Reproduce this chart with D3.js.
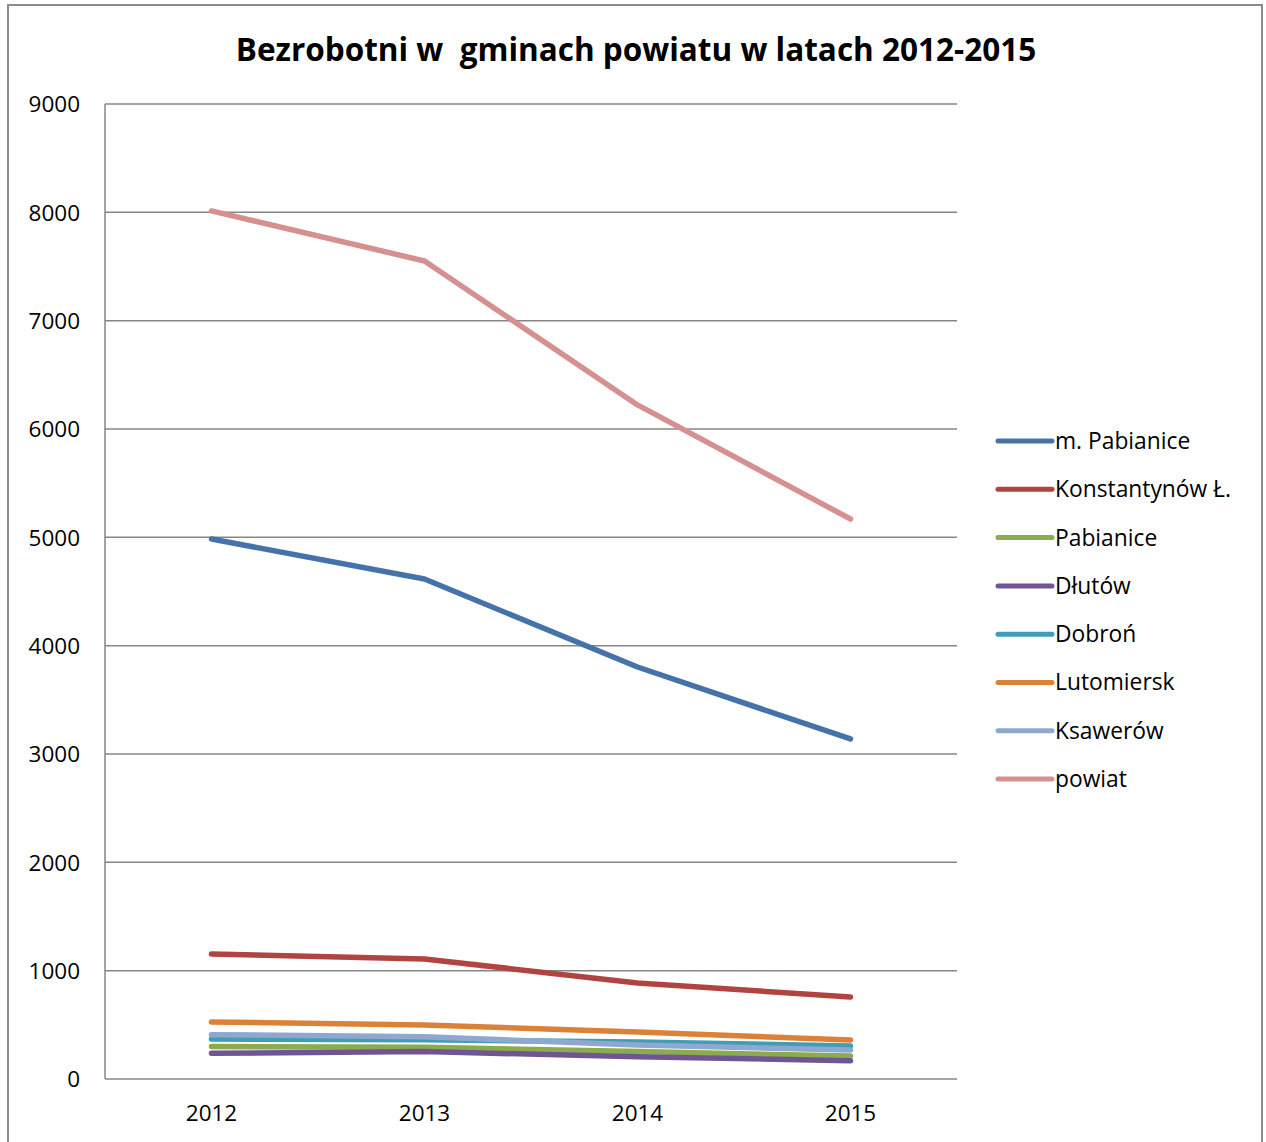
<!DOCTYPE html>
<html>
<head>
  <meta charset="utf-8">
  <script src="https://cdn.jsdelivr.net/npm/d3@7"></script>
  <style>
  body{ margin:0; background:#fff; }
  svg text{ font-family:"Open Sans","Liberation Sans",sans-serif; fill:#000; }
  .grid line{ stroke:#868686; stroke-width:1.5; }
  .axis path, .axis line{ display:none; }
  </style>
</head>
<body>
<svg width="1266" height="1142"></svg>
<script>
var years = ["2012", "2013", "2014", "2015"];
var seriesNames = ["m. Pabianice", "Konstantynów Ł.", "Pabianice", "Dłutów", "Dobroń", "Lutomiersk", "Ksawerów", "powiat"];
var seriesColors = ["#4672aa", "#b04441", "#8bab4e", "#6f5593", "#3f9db6", "#dc8138", "#8ea8cf", "#d49190"];
var mPabianice   = [4985, 4615, 3803, 3139];
var konstantynow = [1154, 1108, 886, 757];
var pabianice    = [299, 293, 253, 212];
var dlutow       = [237, 253, 206, 169];
var dobron       = [369, 362, 342, 305];
var lutomiersk   = [527, 498, 434, 360];
var ksawerow     = [409, 391, 314, 268];
var powiat       = [8013, 7551, 6222, 5169];
var yTicks = [0, 1000, 2000, 3000, 4000, 5000, 6000, 7000, 8000, 9000];

var values = [mPabianice, konstantynow, pabianice, dlutow, dobron, lutomiersk, ksawerow, powiat];
var series = seriesNames.map(function(n, i){ return {name:n, color:seriesColors[i], values:values[i]}; });

var svg = d3.select("svg");
var plotLeft = 105, plotRight = 957, plotTop = 104, plotBottom = 1079;

// outer frame
svg.append("path")
  .attr("d", "M8,1142 V5 H1262 V1142")
  .attr("fill", "none").attr("stroke", "#8c8c8c").attr("stroke-width", 2);

svg.append("text")
  .attr("x", 636).attr("y", 61)
  .attr("text-anchor", "middle")
  .style("font-size", "31.5px").style("font-weight", "bold")
  .style("white-space", "pre")
  .text("Bezrobotni w  gminach powiatu w latach 2012-2015");

var x = d3.scaleBand().domain(years).range([plotLeft, plotRight]);
var y = d3.scaleLinear().domain([0, 9000]).range([plotBottom, plotTop]);

svg.append("g").attr("class", "grid")
  .selectAll("line").data(yTicks).enter().append("line")
  .attr("x1", plotLeft).attr("x2", plotRight)
  .attr("y1", function(d){ return y(d); }).attr("y2", function(d){ return y(d); });

svg.append("line")
  .attr("x1", plotLeft).attr("x2", plotLeft).attr("y1", plotTop).attr("y2", plotBottom)
  .attr("stroke", "#868686").attr("stroke-width", 1.5);

svg.append("g").attr("class", "axis")
  .attr("transform", "translate(" + (plotLeft - 25) + ",0)")
  .call(d3.axisLeft(y).tickValues(yTicks).tickFormat(d3.format("d")).tickSize(0).tickPadding(0))
  .selectAll("text").style("font-size", "22.5px").attr("dy", "0.35em");

svg.append("g").attr("class", "axis")
  .attr("transform", "translate(0," + (plotBottom + 34) + ")")
  .call(d3.axisBottom(x).tickSize(0).tickPadding(0))
  .selectAll("text").style("font-size", "22.5px").attr("dy", "0.35em");

var line = d3.line()
  .x(function(d, i){ return x(years[i]) + x.bandwidth() / 2; })
  .y(function(d){ return y(d); });

svg.append("g").selectAll("path").data(series).enter().append("path")
  .attr("d", function(d){ return line(d.values); })
  .attr("fill", "none")
  .attr("stroke", function(d){ return d.color; })
  .attr("stroke-width", 5.5)
  .attr("stroke-linecap", "round")
  .attr("stroke-linejoin", "round");

var legend = svg.append("g").selectAll("g").data(series).enter().append("g")
  .attr("transform", function(d, i){ return "translate(998," + (441 + i * 48.3) + ")"; });
legend.append("line")
  .attr("x1", 0).attr("x2", 54)
  .attr("stroke", function(d){ return d.color; })
  .attr("stroke-width", 5).attr("stroke-linecap", "round");
legend.append("text")
  .attr("x", 57).attr("dy", "0.35em")
  .style("font-size", "22.8px")
  .text(function(d){ return d.name; });
</script>
</body>
</html>
